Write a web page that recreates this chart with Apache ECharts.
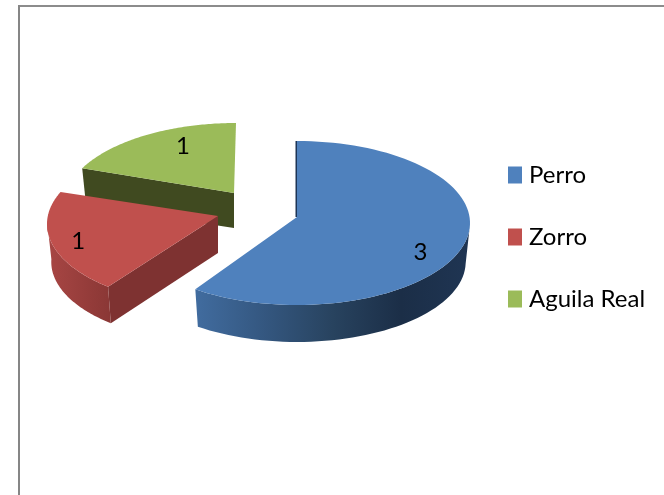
<!DOCTYPE html>
<html><head><meta charset="utf-8">
<style>html,body{margin:0;padding:0;background:#fff}#c{width:664px;height:495px}</style>
<script src="https://cdn.jsdelivr.net/npm/echarts@6/dist/echarts.min.js"></script>
</head><body><div id="c"></div>
<script>
const categories = ['Perro', 'Zorro', 'Aguila Real'];
const values = [3, 1, 1];
const faceColors = ['#4f81bd', '#c0504d', '#9bbb59'];

// Projection of each exploded slice on the page (style only, no data).
const views = [
  {cx:297,cy:223,rx:173,ry:82,ax:297,ay:217,depth:38,skew0:0,skew1:0,
   wall:['#416c9f','#345780','#28435f','#1b2e47','#1f3553'],cut:'#1d3557',
   label:{f:.75,dx:0,dy:12}},
  {cx:218,cy:224,rx:171,ry:82,ax:218,ay:216,depth:37,skew0:4,skew1:5,
   wall:['#a84644','#8a3735'],cut:'#7e3231',
   label:{f:.84,dx:0,dy:2}},
  {cx:236,cy:205,rx:172,ry:82,ax:234,ay:193,depth:35,skew0:8.6,skew1:0,
   wall:['#404a20','#404a20'],cut:'#404a20',
   label:{f:.578,dx:0,dy:-13}}
];
const bottomScale = 0.975;

const total = values.reduce((a, b) => a + b, 0);
const starts = values.map((v, i) => values.slice(0, i).reduce((a, b) => a + b, 0) / total * 360);

function rim(v, t) {
  const r = t * Math.PI / 180;
  return [v.cx + v.rx * Math.sin(r), v.cy - v.ry * Math.cos(r)];
}
function rimBottom(v, t) {
  const r = t * Math.PI / 180;
  return [v.cx + v.rx * bottomScale * Math.sin(r), v.cy + v.depth + 1 - v.ry * bottomScale * Math.cos(r)];
}
function renderSlice(i) {
  const v = views[i];
  const t0 = starts[i] + v.skew0;
  const t1 = starts[i] + values[i] / total * 360 + v.skew1;
  const ts = [];
  for (let k = 0; k <= 90; k++) ts.push(t0 + (t1 - t0) * k / 90);
  const arc = ts.map(t => rim(v, t));
  const apex = [v.ax, v.ay];
  const apexDrop = [v.ax, v.ay + v.depth];
  const children = [];
  const wallBetween = (a, b) => {
    const w = ts.filter(t => t >= a && t <= b);
    return w.map(t => rim(v, t)).concat(w.slice().reverse().map(t => rimBottom(v, t)));
  };
  const wallFill = {type:'linear',x:0,y:0,x2:1,y2:0,colorStops:
    v.wall.map((c, k) => ({offset:k / (v.wall.length - 1),color:c}))};

  if (i === 2 || i === 1) {
    children.push({type:'polygon',shape:{points:[apex,arc[0],rimBottom(v,t0),apexDrop]},
      style:{fill:v.cut}});
  }
  if (i === 1) {
    children.push({type:'polygon',shape:{points:wallBetween(0, 272)},style:{fill:wallFill}});
  }
  if (i === 0) {
    children.push({type:'polygon',shape:{points:wallBetween(90, 360)},style:{fill:wallFill}});
    children.push({type:'polygon',shape:{points:[arc[0],[arc[0][0]-1.5,arc[0][1]],[v.ax-1.5,v.ay],apex]},
      style:{fill:v.cut}});
  }
  children.push({type:'polygon',shape:{points:[apex].concat(arc)},style:{fill:faceColors[i]}});

  const mid = rim(v, (t0 + t1) / 2);
  const L = v.label;
  children.push({type:'text',style:{
    text:String(values[i]),
    x:apex[0] + (mid[0] - apex[0]) * L.f + L.dx,
    y:apex[1] + (mid[1] - apex[1]) * L.f + L.dy,
    fill:'#000',font:'24px Lato',align:'center',verticalAlign:'middle'}});
  return {type:'group',children};
}

const drawOrder = [2, 1, 0];
const series = drawOrder.map((i, z) => ({
  type:'custom',name:categories[i],coordinateSystem:'none',z:2 + z,
  itemStyle:{color:faceColors[i]},
  data:[values[i]],silent:true,animation:false,
  renderItem:() => renderSlice(i)
}));

const chart = echarts.init(document.getElementById('c'), null, {renderer:'canvas'});
chart.setOption({
  animation:false,
  backgroundColor:'#fff',
  legend:{orient:'vertical',left:508,top:163,padding:0,data:categories,icon:'rect',
    itemWidth:14,itemHeight:17,itemGap:38,selectedMode:false,
    textStyle:{fontFamily:'Lato',fontSize:24,color:'#000',padding:[0,0,0,2]}},
  graphic:[
    {type:'line',shape:{x1:19,y1:6,x2:664,y2:6},style:{stroke:'#8c8c8c',lineWidth:2},z:1},
    {type:'line',shape:{x1:19,y1:5,x2:19,y2:495},style:{stroke:'#868686',lineWidth:2},z:1}
  ],
  series
});
</script></body></html>
